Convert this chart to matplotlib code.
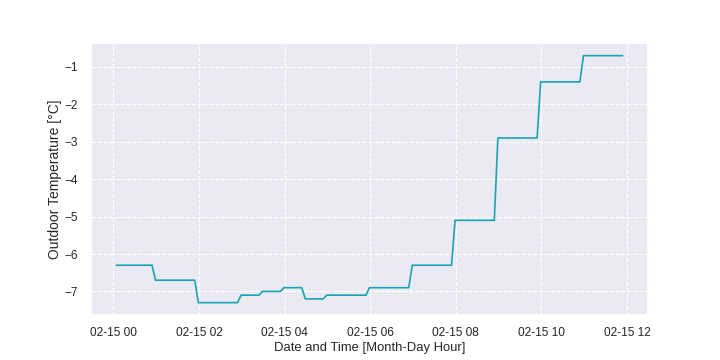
import matplotlib
matplotlib.use("Agg")
import matplotlib.pyplot as plt
import matplotlib.dates as mdates
import pandas as pd
import seaborn as sns

# outdoor temperature, one reading every 5 minutes from 02-15 00:04
times = pd.date_range("2023-02-15 00:04", periods=143, freq="5min")
temps = [
    -6.3, -6.3, -6.3, -6.3, -6.3, -6.3, -6.3, -6.3, -6.3, -6.3, -6.3,
    -6.7, -6.7, -6.7, -6.7, -6.7, -6.7, -6.7, -6.7, -6.7, -6.7, -6.7, -6.7,
    -7.3, -7.3, -7.3, -7.3, -7.3, -7.3, -7.3, -7.3, -7.3, -7.3, -7.3, -7.3,
    -7.1, -7.1, -7.1, -7.1, -7.1, -7.1,
    -7.0, -7.0, -7.0, -7.0, -7.0, -7.0,
    -6.9, -6.9, -6.9, -6.9, -6.9, -6.9,
    -7.2, -7.2, -7.2, -7.2, -7.2, -7.2,
    -7.1, -7.1, -7.1, -7.1, -7.1, -7.1, -7.1, -7.1, -7.1, -7.1, -7.1, -7.1,
    -6.9, -6.9, -6.9, -6.9, -6.9, -6.9, -6.9, -6.9, -6.9, -6.9, -6.9, -6.9,
    -6.3, -6.3, -6.3, -6.3, -6.3, -6.3, -6.3, -6.3, -6.3, -6.3, -6.3, -6.3,
    -5.1, -5.1, -5.1, -5.1, -5.1, -5.1, -5.1, -5.1, -5.1, -5.1, -5.1, -5.1,
    -2.9, -2.9, -2.9, -2.9, -2.9, -2.9, -2.9, -2.9, -2.9, -2.9, -2.9, -2.9,
    -1.4, -1.4, -1.4, -1.4, -1.4, -1.4, -1.4, -1.4, -1.4, -1.4, -1.4, -1.4,
    -0.7, -0.7, -0.7, -0.7, -0.7, -0.7, -0.7, -0.7, -0.7, -0.7, -0.7, -0.7,
]

sns.set_theme(style="darkgrid", rc={"grid.linestyle": "--", "grid.linewidth": 0.8})
plt.rcParams["font.family"] = ["Liberation Sans", "DejaVu Sans"]

fig, ax = plt.subplots(figsize=(7.2, 3.6), dpi=100)
fig.subplots_adjust(left=0.1264, right=0.9, bottom=0.125, top=0.8797)

ax.plot(times, temps, color="#1aa3b5", linewidth=1.2)

ax.xaxis.set_major_locator(mdates.HourLocator(byhour=range(0, 24, 2)))
ax.xaxis.set_major_formatter(mdates.DateFormatter("%m-%d %H"))
ax.tick_params(axis="both", labelsize=8.6)
ax.tick_params(axis="x", pad=3)

ax.set_xlabel("Date and Time [Month-Day Hour]", fontsize=9.4, labelpad=2)
ax.set_ylabel("Outdoor Temperature [°C]", fontsize=10, labelpad=2)

fig.savefig("out.png", dpi=100)
